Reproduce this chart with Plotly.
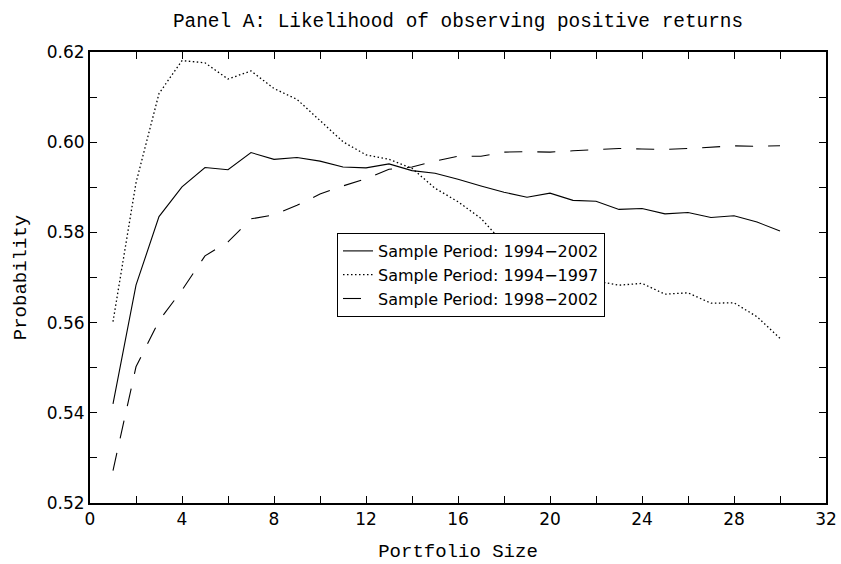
import plotly.graph_objects as go

portfolio_size = list(range(1, 31))

p_1994_2002 = [0.5420, 0.5683, 0.5835, 0.5901, 0.5944, 0.5939, 0.5977, 0.5962, 0.5966, 0.5958,
               0.5945, 0.5943, 0.5952, 0.5937, 0.5931, 0.5918, 0.5903, 0.5889, 0.5878, 0.5887,
               0.5871, 0.5869, 0.5851, 0.5853, 0.5841, 0.5844, 0.5833, 0.5837, 0.5823, 0.5803]

p_1994_1997 = [0.5602, 0.5910, 0.6108, 0.6181, 0.6176, 0.6140, 0.6158, 0.6119, 0.6095, 0.6049,
               0.6001, 0.5972, 0.5962, 0.5942, 0.5898, 0.5868, 0.5831, 0.5775, 0.5745, 0.5720,
               0.5705, 0.5692, 0.5683, 0.5687, 0.5663, 0.5666, 0.5643, 0.5644, 0.5613, 0.5565]

p_1998_2002 = [0.5272, 0.5502, 0.5604, 0.5672, 0.5748, 0.5779, 0.5830, 0.5839, 0.5860, 0.5885,
               0.5903, 0.5919, 0.5940, 0.5945, 0.5958, 0.5969, 0.5969, 0.5978, 0.5979, 0.5978,
               0.5981, 0.5983, 0.5986, 0.5985, 0.5984, 0.5986, 0.5989, 0.5992, 0.5991, 0.5992]

series_names = ["Sample Period: 1994\u22122002", "Sample Period: 1994\u22121997", "Sample Period: 1998\u22122002"]

x_tickvals = list(range(0, 33, 2))
x_ticktext = [str(v) if v % 4 == 0 else "" for v in x_tickvals]
y_tickvals = [round(0.52 + 0.01 * i, 2) for i in range(11)]
y_ticktext = [f"{v:.2f}" if i % 2 == 0 else "" for i, v in enumerate(y_tickvals)]

fig = go.Figure()
fig.add_trace(go.Scatter(x=portfolio_size, y=p_1994_2002, mode="lines", name=series_names[0],
                         line=dict(color="black", width=1.1)))
fig.add_trace(go.Scatter(x=portfolio_size, y=p_1994_1997, mode="lines", name=series_names[1],
                         line=dict(color="black", width=1.3, dash="1.5px,2.5px")))
fig.add_trace(go.Scatter(x=portfolio_size, y=p_1998_2002, mode="lines", name=series_names[2],
                         line=dict(color="black", width=1.1, dash="18px,15px")))

axis_common = dict(showline=True, linecolor="black", linewidth=2, mirror="ticks",
                   ticks="inside", ticklen=7, tickcolor="black", tickwidth=1,
                   showgrid=False, zeroline=False, automargin=False,
                   tickfont=dict(family="DejaVu Sans", size=17, color="black"))

fig.update_layout(
    width=841, height=564,
    margin=dict(l=90, r=15, t=52, b=61),
    paper_bgcolor="white", plot_bgcolor="white",
    title=dict(text="Panel A: Likelihood of observing positive returns",
               x=0.5, xref="paper", xanchor="center", y=1 - 20 / 564, yanchor="middle",
               font=dict(family="Liberation Mono", size=19.4, color="black")),
    xaxis=dict(range=[0, 32], tickvals=x_tickvals, ticktext=x_ticktext,
               title=dict(text="Portfolio Size",
                          font=dict(family="Liberation Mono", size=19, color="black")),
               **axis_common),
    yaxis=dict(range=[0.52, 0.62], tickvals=y_tickvals, ticktext=y_ticktext,
               title=dict(text="Probability",
                          font=dict(family="Liberation Mono", size=19, color="black")),
               **axis_common),
    legend=dict(x=(337 - 90) / 736, y=(503 - 233) / 451, xanchor="left", yanchor="top",
                bgcolor="white", bordercolor="black", borderwidth=1,
                font=dict(family="DejaVu Sans", size=16, color="black"),
                tracegroupgap=0),
    showlegend=True,
)

fig.write_html("out.html")
